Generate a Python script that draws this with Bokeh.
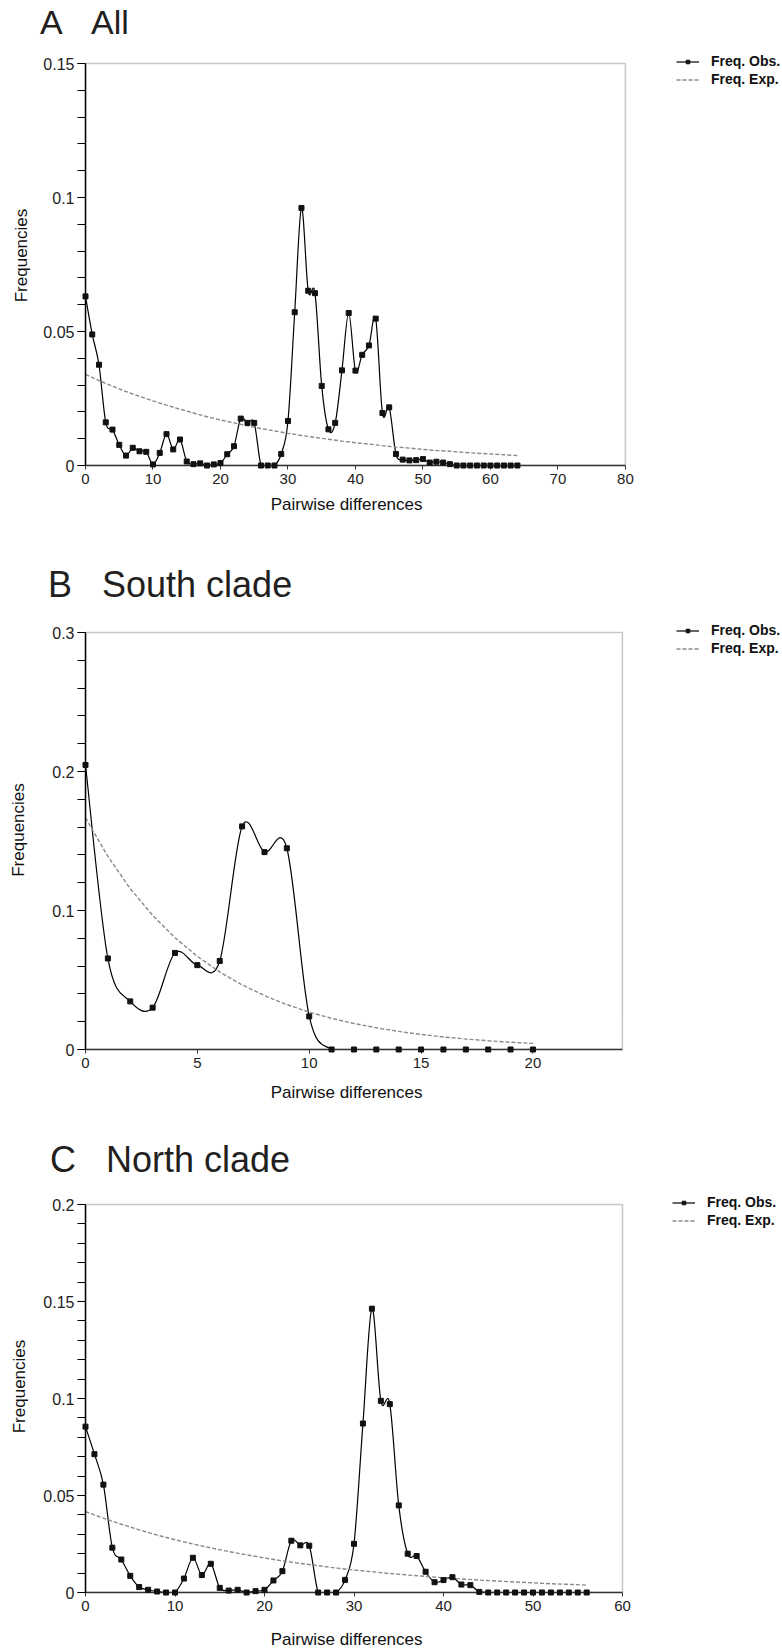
import numpy as np
from bokeh.plotting import figure
from bokeh.models import Range1d, FixedTicker, Legend, LegendItem, BoxAnnotation, Div
from bokeh.layouts import column
from bokeh.embed import file_html
from bokeh.resources import INLINE

# ---------------- data ----------------
# Panel A: All
a_x = list(range(0, 65))
a_obs = [0.0631, 0.0489, 0.0376, 0.0161, 0.0134, 0.0077, 0.0037, 0.0066, 0.0053, 0.0051,
         0.0004, 0.0047, 0.0117, 0.0060, 0.0097, 0.0015, 0.0005, 0.0008, 0.0000, 0.0004,
         0.0009, 0.0042, 0.0072, 0.0175, 0.0159, 0.0159, 0.0000, 0.0000, 0.0000, 0.0043,
         0.0166, 0.0572, 0.0961, 0.0652, 0.0643, 0.0297, 0.0135, 0.0159, 0.0355, 0.0569,
         0.0354, 0.0413, 0.0448, 0.0548, 0.0196, 0.0217, 0.0043, 0.0022, 0.0019, 0.0020,
         0.0024, 0.0011, 0.0014, 0.0011, 0.0005, 0.0, 0.0, 0.0, 0.0, 0.0,
         0.0, 0.0, 0.0, 0.0, 0.0]
a_exp_x = list(range(0, 65, 2))
a_exp = [0.0340, 0.0317, 0.0296, 0.0276, 0.0258, 0.0241, 0.0225, 0.0210, 0.0196, 0.0182,
         0.0170, 0.0159, 0.0148, 0.0138, 0.0129, 0.0120, 0.0112, 0.0105, 0.0098, 0.0091,
         0.0085, 0.0080, 0.0074, 0.0069, 0.0065, 0.0060, 0.0056, 0.0053, 0.0049, 0.0046,
         0.0043, 0.0040, 0.0037]
a_xticks = [0, 10, 20, 30, 40, 50, 60, 70, 80]
a_yticks = [0, 0.05, 0.1, 0.15]
a_ylabels = ["0", "0.05", "0.1", "0.15"]

# Panel B: South clade
b_x = list(range(0, 21))
b_obs = [0.2047, 0.0655, 0.0346, 0.0301, 0.0695, 0.0607, 0.0637, 0.1605, 0.1420, 0.1448,
         0.0238, 0.0, 0.0, 0.0, 0.0, 0.0, 0.0, 0.0, 0.0, 0.0, 0.0]
b_exp_x = list(range(0, 21))
b_exp = [0.1667, 0.1389, 0.1157, 0.0965, 0.0804, 0.0670, 0.0558, 0.0465, 0.0388, 0.0323,
         0.0269, 0.0224, 0.0187, 0.0156, 0.0130, 0.0108, 0.0090, 0.0075, 0.0063, 0.0052,
         0.0044]
b_xticks = [0, 5, 10, 15, 20]
b_yticks = [0, 0.1, 0.2, 0.3]
b_ylabels = ["0", "0.1", "0.2", "0.3"]

# Panel C: North clade
c_x = list(range(0, 57))
c_obs = [0.0855, 0.0713, 0.0556, 0.0231, 0.0170, 0.0086, 0.0028, 0.0014, 0.0005, 0.0,
         0.0, 0.0072, 0.0179, 0.0090, 0.0148, 0.0024, 0.0010, 0.0014, 0.0, 0.0007,
         0.0014, 0.0062, 0.0110, 0.0267, 0.0243, 0.0241, 0.0, 0.0, 0.0, 0.0065,
         0.0251, 0.0871, 0.1463, 0.0988, 0.0971, 0.0449, 0.0200, 0.0188, 0.0107, 0.0053,
         0.0064, 0.0079, 0.0041, 0.0038, 0.0003, 0.0, 0.0, 0.0, 0.0, 0.0,
         0.0, 0.0, 0.0, 0.0, 0.0, 0.0, 0.0]
c_exp_x = list(range(0, 57, 2))
c_exp = [0.0417, 0.0383, 0.0352, 0.0323, 0.0296, 0.0272, 0.0250, 0.0230, 0.0211, 0.0194,
         0.0178, 0.0163, 0.0150, 0.0138, 0.0126, 0.0116, 0.0107, 0.0098, 0.0090, 0.0083,
         0.0076, 0.0070, 0.0064, 0.0059, 0.0054, 0.0050, 0.0045, 0.0042, 0.0038]
c_xticks = [0, 10, 20, 30, 40, 50, 60]
c_yticks = [0, 0.05, 0.1, 0.15, 0.2]
c_ylabels = ["0", "0.05", "0.1", "0.15", "0.2"]

titles = [("A", "All"), ("B", "South clade"), ("C", "North clade")]
legend_labels = ["Freq. Obs.", "Freq. Exp."]
x_title = "Pairwise differences"
y_title = "Frequencies"

SANS = "Liberation Sans"
W = 782
XLAB_SIZE = 17
XLAB_CENTER = 345      # horizontal centre of the x-axis title, in page pixels
NBSP = "\u00a0"


def smooth(xs, ys):
    """Catmull-Rom spline through the points expressed as cubic Bezier pieces."""
    n = len(xs)
    d = dict(x0=[], y0=[], x1=[], y1=[], cx0=[], cy0=[], cx1=[], cy1=[])
    for i in range(n - 1):
        xm, ym = (xs[i - 1], ys[i - 1]) if i > 0 else (xs[i], ys[i])
        xp, yp = (xs[i + 2], ys[i + 2]) if i + 2 < n else (xs[i + 1], ys[i + 1])
        d["x0"].append(xs[i]); d["y0"].append(ys[i])
        d["x1"].append(xs[i + 1]); d["y1"].append(ys[i + 1])
        d["cx0"].append(xs[i] + (xs[i + 1] - xm) / 6.0)
        d["cy0"].append(max(0.0, ys[i] + (ys[i + 1] - ym) / 6.0))
        d["cx1"].append(xs[i + 1] - (xp - xs[i]) / 6.0)
        d["cy1"].append(max(0.0, ys[i + 1] - (yp - ys[i]) / 6.0))
    return d


def title_div(letter, name, height, pad_top, pad_left, size):
    html = ('<div style="margin:0;padding:%dpx 0 0 %dpx;font-family:\'Liberation Sans\';'
            'font-size:%dpx;line-height:1;color:#231f20;white-space:pre;">%s&nbsp;&nbsp;&nbsp;%s</div>'
            % (pad_top, pad_left, size, letter, name))
    return Div(text=html, width=W, height=height, margin=0)


def panel(xs, obs, ex_x, ex, xmax, xticks, ymax, yticks, ylabels, ystep,
          fig_top, frame_top, frame_bottom, fig_bottom, left, right, xlab_std, ylab_std):
    height = fig_bottom - fig_top
    bottom = fig_bottom - frame_bottom
    fh = frame_bottom - frame_top          # visible plot-area height
    fh_ext = frame_bottom - fig_top        # frame extended up to the figure top
    x_ext = xmax * (W - left) / (right - left)
    y_ext = ymax * fh_ext / fh
    p = figure(width=W, height=height, x_range=Range1d(0, x_ext), y_range=Range1d(0, y_ext),
               output_backend="svg", toolbar_location=None,
               min_border_left=left, min_border_right=0,
               min_border_top=0, min_border_bottom=bottom,
               background_fill_color="white", border_fill_color="white")
    p.title.visible = False
    p.grid.visible = False
    p.outline_line_color = None

    # visible plot box
    p.add_layout(BoxAnnotation(left=0, right=xmax, bottom=0, top=ymax, fill_alpha=0,
                               line_color="#444444", line_width=1.5, level="underlay"))

    # observed: smoothed line + markers
    br = p.bezier(x0="x0", y0="y0", x1="x1", y1="y1", cx0="cx0", cy0="cy0", cx1="cx1", cy1="cy1",
                  source=smooth(xs, obs), line_color="black", line_width=1.2)
    sc = p.scatter(xs, obs, marker="square", size=5, fill_color="#111111", line_color="#111111",
                   level="annotation")
    # expected
    el = p.line(ex_x, ex, line_color="#8a8a8a", line_width=1.4, line_dash="4 2")

    # axes
    # the axis title is centred on the whole (extended) frame; pad it on the right so that
    # the visible words sit under the plot box as in the original
    shift = ((left + W) / 2.0) - XLAB_CENTER
    n_pad = int(round(2 * shift / (0.278 * XLAB_SIZE)))
    xa = p.xaxis[0]
    xa.bounds = (0, xmax)
    xa.ticker = FixedTicker(ticks=xticks, minor_ticks=[])
    xa.axis_label = x_title + NBSP * n_pad
    xa.axis_label_text_font = SANS
    xa.axis_label_text_font_size = "%dpx" % XLAB_SIZE
    xa.axis_label_text_font_style = "normal"
    xa.axis_label_text_color = "#111111"
    xa.axis_label_standoff = xlab_std
    xa.major_label_text_font = SANS
    xa.major_label_text_font_size = "15px"
    xa.major_label_text_color = "#222222"
    xa.major_label_standoff = 4
    xa.major_tick_in = 0
    xa.major_tick_out = 4
    xa.minor_tick_out = 0
    xa.minor_tick_in = 0
    xa.axis_line_color = "#333333"
    xa.axis_line_width = 1.5
    xa.major_tick_line_color = "#333333"

    ya = p.yaxis[0]
    ya.bounds = (0, ymax)
    minor = [float(v) for v in np.round(np.arange(0, ymax + 1e-9, ystep), 5)]
    ya.ticker = FixedTicker(ticks=yticks, minor_ticks=minor)
    ya.major_label_overrides = {t: s for t, s in zip(yticks, ylabels)}
    ya.axis_label = y_title
    ya.axis_label_text_font = SANS
    ya.axis_label_text_font_size = "17px"
    ya.axis_label_text_font_style = "normal"
    ya.axis_label_text_color = "#111111"
    ya.axis_label_standoff = ylab_std
    ya.major_label_text_font = SANS
    ya.major_label_text_font_size = "16px"
    ya.major_label_text_color = "#222222"
    ya.major_label_standoff = 3
    ya.major_tick_in = 0
    ya.major_tick_out = 8
    ya.minor_tick_in = 0
    ya.minor_tick_out = 8
    ya.axis_line_color = "black"
    ya.axis_line_width = 1.5
    ya.major_tick_line_color = "black"
    ya.minor_tick_line_color = "black"

    leg = Legend(items=[LegendItem(label=legend_labels[0], renderers=[br, sc]),
                        LegendItem(label=legend_labels[1], renderers=[el])],
                 location=(672 - left, fh - 24), orientation="vertical",
                 padding=0, margin=0, spacing=2,
                 glyph_width=23, glyph_height=9, label_height=14, label_standoff=12,
                 label_text_font=SANS, label_text_font_size="14px",
                 label_text_font_style="bold", label_text_color="#111111",
                 background_fill_alpha=0, border_line_alpha=0)
    p.add_layout(leg)
    return p


dA = title_div(titles[0][0], titles[0][1], 45, 5, 40, 34)
pA = panel(a_x, a_obs, a_exp_x, a_exp, 80, a_xticks, 0.15, a_yticks, a_ylabels, 0.01,
           45, 63, 465, 540, 81, 624, 8, 9)
dB = title_div(titles[1][0], titles[1][1], 70, 27, 48, 36)
pB = panel(b_x, b_obs, b_exp_x, b_exp, 24, b_xticks, 0.3, b_yticks, b_ylabels, 0.02,
           610, 632, 1049, 1110, 81, 621, 12, 21)
dC = title_div(titles[2][0], titles[2][1], 70, 32, 50, 36)
pC = panel(c_x, c_obs, c_exp_x, c_exp, 60, c_xticks, 0.2, c_yticks, c_ylabels, 0.01,
           1180, 1204, 1592, 1651, 85, 622, 16, 11)

layout = column(dA, pA, dB, pB, dC, pC, spacing=0)
open("out.html", "w").write(file_html(layout, INLINE))
